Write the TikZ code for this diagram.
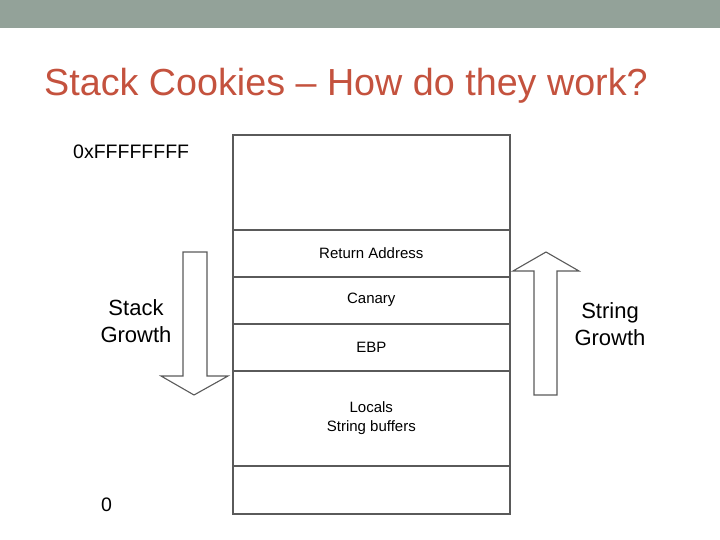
\documentclass[tikz,border=0pt]{standalone}
\usepackage{fontspec}
\setmainfont{Liberation Sans}
\definecolor{barcol}{RGB}{147,162,153}
\definecolor{titlecol}{RGB}{196,82,62}
\definecolor{linecol}{RGB}{90,90,90}
\begin{document}
\begin{tikzpicture}[x=1pt,y=-1pt,
  cell/.style={draw=linecol,line width=1.6pt,minimum width=277pt,inner sep=0pt,anchor=north west,align=center,font=\fontsize{15}{19}\selectfont},
  lbl/.style={inner sep=0pt,align=center,font=\fontsize{22}{27}\selectfont},
  arr/.style={draw=linecol,line width=1.1pt,fill=white,line join=miter}]
\useasboundingbox (0,0) rectangle (720,540);
\fill[barcol] (0,0) rectangle (720,28);
\node[anchor=base west,inner sep=0pt,text=titlecol,font=\fontsize{37.7}{40}\selectfont] (title) at (44,96) {Stack Cookies – How do they work?};
% stack
\node[cell,minimum height=95pt] (top) at (232,134) {};
\node[cell,minimum height=47pt] (ret) at (232,229) {Return Address};
\node[cell,minimum height=47pt] (can) at (232,276) {Canary};
\node[cell,minimum height=47pt] (ebp) at (232,323) {EBP};
\node[cell,minimum height=95pt] (loc) at (232,370) {Locals\\String buffers};
\node[cell,minimum height=48pt] (bot) at (232,465) {};
% address labels
\node[anchor=base west,inner sep=0pt,font=\fontsize{19.5}{22}\selectfont] (hi) at (73,159) {0xFFFFFFFF};
\node[anchor=base west,inner sep=0pt,font=\fontsize{19.5}{22}\selectfont] (lo) at (101,511) {0};
% arrows
\draw[arr] (183,252) -- (207,252) -- (207,376) -- (228,376) -- (194,395) -- (161,376) -- (183,376) -- cycle;
\draw[arr] (534,395) -- (557,395) -- (557,271) -- (579,271) -- (546,252) -- (513,271) -- (534,271) -- cycle;
\node[lbl] (sg) at (136,321) {Stack\\Growth};
\node[lbl] (strg) at (610,324) {String\\Growth};
\end{tikzpicture}
\end{document}
